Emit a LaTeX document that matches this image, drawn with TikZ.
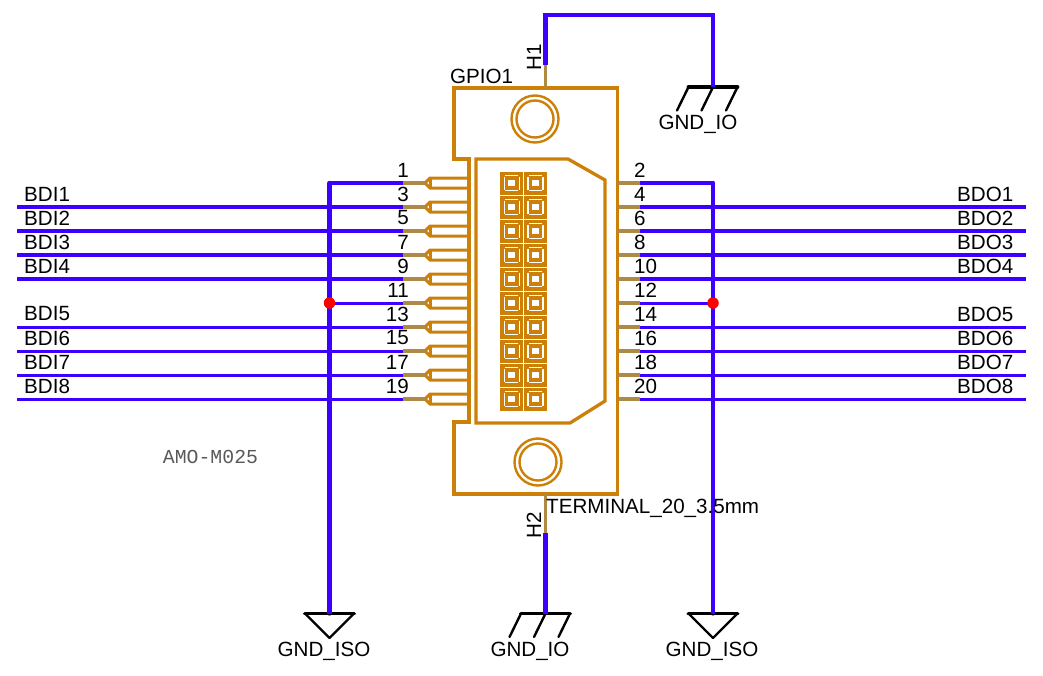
\documentclass[tikz,border=0pt]{standalone}
\usepackage{fontspec}
\setmainfont{Liberation Sans}
\newfontfamily\monof{Liberation Mono}
\definecolor{wire}{HTML}{3C00FF}
\definecolor{body}{HTML}{CC8008}
\definecolor{stub}{HTML}{AE8A45}
\tikzset{
  wireline/.style={draw=wire,line width=3.2pt},
  thinwire/.style={draw=wire,line width=3pt},
  busline/.style={draw=wire,line width=4.4pt,line cap=round,line join=miter},
  stubline/.style={draw=stub,line width=3.2pt},
  bodyline/.style={draw=body,line width=3.3pt,line join=miter},
  pinline/.style={draw=body,line width=3pt,line join=miter},
  gndline/.style={draw=black,line width=2.4pt,line cap=round},
  gndbar/.style={draw=black,line width=3.8pt,line cap=round},
  lbl/.style={inner sep=0pt,font=\fontsize{20.6}{22}\selectfont,text=black},
  dot/.style={circle,fill=red,inner sep=0pt,minimum size=11.5pt}
}
\begin{document}
\begin{tikzpicture}[x=1pt,y=-1pt]
\useasboundingbox (0,0) rectangle (1043,675);
% connector body
\draw[bodyline] (469,422) -- (454,422) -- (454,494) -- (617.5,494) -- (617.5,88) -- (454,88) -- (454,159) -- (469,159) -- cycle;
\draw[bodyline] (476,159) -- (568,159) -- (605,180) -- (605,401) -- (570,423) -- (476,423) -- cycle;
\draw[draw=body,line width=2.4pt] (535,119) circle (23.5) circle (18.5);
\draw[draw=body,line width=2.4pt] (538,462) circle (23.5) circle (18.5);
% pads
\foreach \i in {0,...,9}{
  \foreach \cx in {511.7,535.5}{
    \pgfmathsetmacro\cy{183+24*\i}
    \fill[body] (\cx-11.5,\cy-11.5) rectangle (\cx+11.5,\cy+11.5);
    \draw[white,line width=1.3pt] (\cx-6.5,\cy-7.5) -- (\cx+6.5,\cy-7.5) (\cx-6.5,\cy+7.5) -- (\cx+6.5,\cy+7.5) (\cx-7.5,\cy-6.5) -- (\cx-7.5,\cy+6.5) (\cx+7.5,\cy-6.5) -- (\cx+7.5,\cy+6.5);
    \fill[white] (\cx-3.3,\cy-3.3) rectangle (\cx+3.3,\cy+3.3);
  }
}
% pins
\foreach \i [evaluate=\i as \py using 183+24*\i] in {0,...,9}{
  \coordinate (pl\i) at (403,\py);
  \coordinate (pr\i) at (640,\py);
  \draw[pinline] (469,\py-5) -- (430,\py-5) -- (425,\py) -- (430,\py+5) -- (469,\py+5);
  \draw[pinline] (430,\py-5) -- (430,\py+5);
  \draw[stubline] (425,\py) -- (pl\i);
  \draw[stubline] (617.5,\py) -- (pr\i);
}
% numbers
\foreach \i/\n in {0/1,1/3,2/5,3/7,4/9,5/11,6/13,7/15,8/17,9/19}{
  \node[lbl,anchor=east] (nl\n) at (409,170+24*\i) {\n};
}
\foreach \i/\n in {0/2,1/4,2/6,3/8,4/10,5/12,6/14,7/16,8/18,9/20}{
  \node[lbl,anchor=west] (nr\n) at (634,170+24*\i) {\n};
}
% signal names and wires
\foreach \i/\k/\w in {1/1/wireline,2/2/wireline,3/3/wireline,4/4/wireline,6/5/thinwire,7/6/thinwire,8/7/thinwire,9/8/thinwire}{
  \pgfmathsetmacro\py{183+24*\i}
  \node[lbl,anchor=west] (bdi\k) at (24,\py-13) {BDI\k};
  \node[lbl,anchor=east] (bdo\k) at (1013.5,\py-13) {BDO\k};
  \coordinate (el\k) at (17,\py);
  \coordinate (er\k) at (1026,\py);
  \draw[\w] (el\k) -- (pl\i);
  \draw[\w] (pr\i) -- (er\k);
}
% grounds
\coordinate (gisoL) at (329.5,613.5);
\coordinate (gisoR) at (713,613.5);
\coordinate (gioB) at (545.5,613.5);
\coordinate (gioT) at (713,87);
\coordinate (h1a) at (545.5,88);
\coordinate (h1b) at (545.5,65);
\coordinate (h1c) at (545.5,15);
\coordinate (h1d) at (713,15);
\coordinate (h2a) at (545.5,494);
\coordinate (h2b) at (545.5,533);
\coordinate (jl) at (329.5,303);
\coordinate (jr) at (713,303);
\draw[wireline] (pl0) -- (pl0 -| jl);
\draw[thinwire] (pl5) -- (jl);
\draw[wireline] (pr0) -- (pr0 -| jr);
\draw[thinwire] (pr5) -- (jr);
\draw[busline] (pl0 -| jl) -- (gisoL);
\draw[busline] (pr0 -| jr) -- (gisoR);
\draw[stubline] (h1a) -- (h1b);
\draw[busline,line cap=butt] (h1b) -- (h1c) -- (h1d) -- (gioT);
\draw[stubline] (h2a) -- (h2b);
\draw[busline,line cap=butt] (h2b) -- (gioB);
\node[dot] (dl) at (jl) {};
\node[dot] (dr) at (jr) {};
% ground symbols
\foreach \c in {gisoL,gisoR}{
  \draw[gndline,line join=round] ([xshift=-24.5pt]\c) -- ([yshift=-24.5pt]\c) -- ([xshift=24.5pt]\c);
  \draw[gndbar] ([xshift=-24.5pt]\c) -- ([xshift=24.5pt]\c);
}
\foreach \c in {gioB,gioT}{
  \foreach \d in {-24.5,0,24.5}{
    \draw[gndline] ([xshift=\d pt]\c) -- ([xshift=\d pt-11.5pt,yshift=-23.5pt]\c);
  }
  \draw[gndbar] ([xshift=-24.5pt]\c) -- ([xshift=24.5pt]\c);
}
% wire ends over the bars
\foreach \c in {gioT,gioB,gisoL,gisoR}{
  \draw[busline,line cap=butt] ([yshift=6pt]\c) -- (\c);
}
% labels
\node[lbl,anchor=west] (gpio) at (450,76) {GPIO1};
\node[lbl,rotate=90] (h1) at (534,57.5) {H1};
\node[lbl,rotate=90] (h2) at (534,525) {H2};
\node[lbl,anchor=west] (term) at (546,508.5) {TERMINAL\_20\_3.5mm};
\node[lbl] (g1) at (698,124.5) {GND\_IO};
\node[lbl] (g2) at (324,651.5) {GND\_ISO};
\node[lbl] (g3) at (530,651.5) {GND\_IO};
\node[lbl] (g4) at (712,651.5) {GND\_ISO};
\node[inner sep=0pt,text=black!65,font=\monof\fontsize{19.8}{22}\selectfont] (amo) at (210.5,457) {AMO-M025};
\end{tikzpicture}
\end{document}
